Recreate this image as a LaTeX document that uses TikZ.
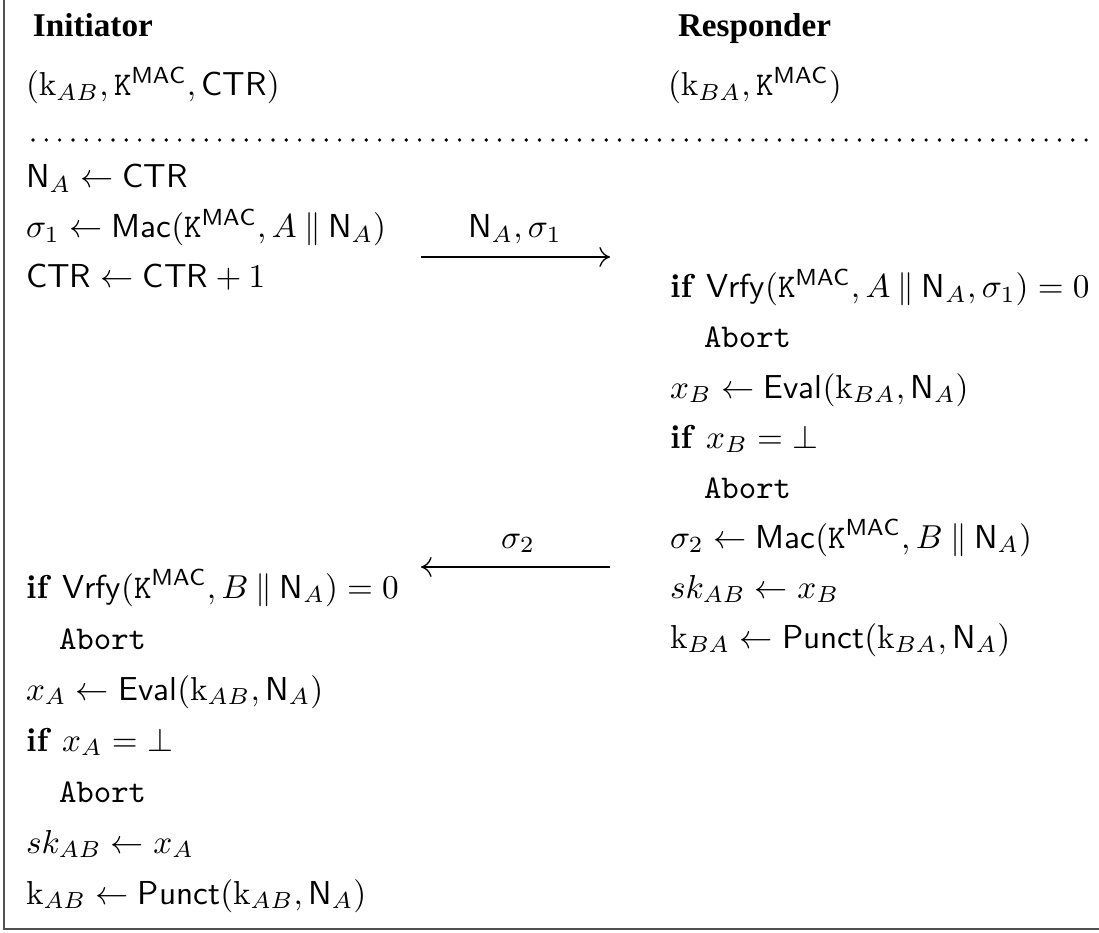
\documentclass[tikz,border=0pt]{standalone}
\usepackage{fontspec}
\newfontfamily\headfont{Liberation Serif}
\usetikzlibrary{arrows.meta}
\newcommand{\KMAC}{\mathtt{K}^{\mathsf{MAC}}}
\newcommand{\kk}{\mathrm{k}}
\newcommand{\NA}{\mathsf{N}_A}
\newcommand{\cat}{\mathbin{\|}}
\definecolor{framegray}{RGB}{80,80,80}
\begin{document}
\begin{tikzpicture}[x=0.3012pt,y=-0.3012pt,
  txt/.style={anchor=base west,inner sep=0pt,outer sep=0pt},
  lbl/.style={anchor=base,inner sep=0pt,outer sep=0pt},
  head/.style={txt,font=\headfont\bfseries},
  msg/.style={-{To[length=3.2pt,width=6pt]},line width=0.4pt}]
\useasboundingbox (0,0) rectangle (1099,932);
% frame (left and bottom edges visible)
\draw[framegray,line width=0.7pt] (4,0) -- (4,929) -- (1099,929);
% headings
\node[head] (hI) at (33,37) {Initiator};
\node[head] (hR) at (678,37) {Responder};
\node[txt] (kI) at (26,96) {$(\kk_{AB}, \KMAC, \mathsf{CTR})$};
\node[txt] (kR) at (668,96) {$(\kk_{BA}, \KMAC)$};
% dotted separator
\foreach \i in {0,...,79} \fill (33+13.33*\i,140) circle[radius=0.55pt];
% initiator, first part
\node[txt] (l1) at (26,188) {$\NA \leftarrow \mathsf{CTR}$};
\node[txt] (l2) at (26,238) {$\sigma_1 \leftarrow \mathsf{Mac}(\KMAC, A \cat \NA)$};
\node[txt] (l3) at (26,288) {$\mathsf{CTR} \leftarrow \mathsf{CTR} + 1$};
% message 1
\coordinate (m1s) at (421,257);
\coordinate (m1e) at (610,257);
\draw[msg] (m1s) -- (m1e);
\node[lbl] (m1l) at (515,238) {$\NA, \sigma_1$};
% responder
\node[txt] (r1) at (670,298) {\textbf{if} $\mathsf{Vrfy}(\KMAC, A \cat \NA, \sigma_1) = 0$};
\node[txt] (r2) at (704,348) {\texttt{Abort}};
\node[txt] (r3) at (670,398) {$x_B \leftarrow \mathsf{Eval}(\kk_{BA}, \NA)$};
\node[txt] (r4) at (670,448) {\textbf{if} $x_B = \bot$};
\node[txt] (r5) at (704,498) {\texttt{Abort}};
\node[txt] (r6) at (670,548) {$\sigma_2 \leftarrow \mathsf{Mac}(\KMAC, B \cat \NA)$};
\node[txt] (r7) at (670,598) {$sk_{AB} \leftarrow x_B$};
\node[txt] (r8) at (670,648) {$\kk_{BA} \leftarrow \mathsf{Punct}(\kk_{BA}, \NA)$};
% message 2
\coordinate (m2s) at (610,567);
\coordinate (m2e) at (421,567);
\draw[msg] (m2s) -- (m2e);
\node[lbl] (m2l) at (518,548) {$\sigma_2$};
% initiator, second part
\node[txt] (l4) at (26,598) {\textbf{if} $\mathsf{Vrfy}(\KMAC, B \cat \NA) = 0$};
\node[txt] (l5) at (59,649) {\texttt{Abort}};
\node[txt] (l6) at (26,700) {$x_A \leftarrow \mathsf{Eval}(\kk_{AB}, \NA)$};
\node[txt] (l7) at (26,751) {\textbf{if} $x_A = \bot$};
\node[txt] (l8) at (59,802) {\texttt{Abort}};
\node[txt] (l9) at (26,853) {$sk_{AB} \leftarrow x_A$};
\node[txt] (l10) at (26,904) {$\kk_{AB} \leftarrow \mathsf{Punct}(\kk_{AB}, \NA)$};
\end{tikzpicture}
\end{document}
